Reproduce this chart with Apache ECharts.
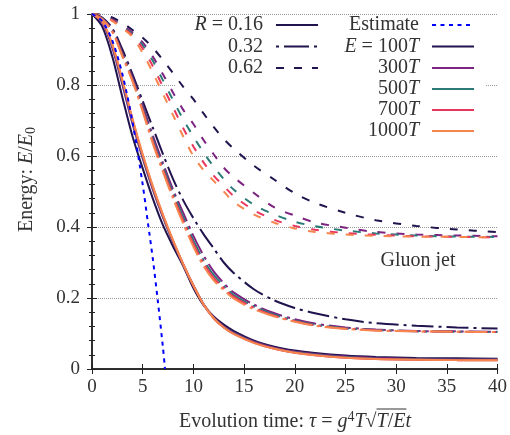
<!DOCTYPE html>
<html>
<head>
<meta charset="utf-8">
<script src="https://cdn.jsdelivr.net/npm/echarts@6/dist/echarts.min.js"></script>
<style>
  html, body { margin: 0; padding: 0; background: #fff; }
  #chart { width: 510px; height: 435px; }
</style>
</head>
<body>
<div id="chart"></div>
<script>
// evolution time grid (shared by all jet curves)
var tau = [0, 1, 2, 3, 4, 5, 6, 7, 8, 9, 10, 11, 12, 13, 14, 16, 18, 20, 22, 25, 28, 32, 36, 40];

// estimate curve
var tauEst = [0, 1, 2, 3, 4, 5, 5.5, 6, 6.5, 7, 7.2];
var estimate = [1, 0.98, 0.925, 0.83, 0.695, 0.52, 0.415, 0.31, 0.19, 0.06, 0];

// R = 0.16 (solid)
var r16_e100  = [1, 0.965, 0.88, 0.765, 0.655, 0.565, 0.48, 0.405, 0.345, 0.29, 0.228, 0.18, 0.148, 0.125, 0.107, 0.08, 0.063, 0.052, 0.045, 0.038, 0.034, 0.031, 0.03, 0.029];
var r16_e300  = [1, 0.976, 0.905, 0.8, 0.69, 0.593, 0.505, 0.427, 0.357, 0.293, 0.235, 0.183, 0.145, 0.12, 0.102, 0.077, 0.06, 0.049, 0.042, 0.035, 0.031, 0.028, 0.027, 0.027];
var r16_e500  = [1, 0.978, 0.91, 0.807, 0.697, 0.598, 0.51, 0.43, 0.359, 0.294, 0.235, 0.182, 0.144, 0.118, 0.1, 0.075, 0.058, 0.047, 0.04, 0.033, 0.029, 0.027, 0.026, 0.026];
var r16_e700  = [1, 0.979, 0.913, 0.811, 0.701, 0.602, 0.513, 0.433, 0.361, 0.295, 0.235, 0.182, 0.143, 0.117, 0.099, 0.074, 0.057, 0.046, 0.039, 0.032, 0.028, 0.026, 0.025, 0.025];
var r16_e1000 = [1, 0.98, 0.915, 0.815, 0.705, 0.605, 0.515, 0.435, 0.362, 0.295, 0.235, 0.182, 0.143, 0.117, 0.098, 0.073, 0.057, 0.046, 0.039, 0.032, 0.028, 0.026, 0.025, 0.025];

// R = 0.32 (dash-dot)
var r32_e100  = [1, 0.99, 0.96, 0.9, 0.83, 0.755, 0.68, 0.605, 0.535, 0.475, 0.425, 0.38, 0.34, 0.3, 0.27, 0.224, 0.193, 0.172, 0.157, 0.14, 0.129, 0.122, 0.117, 0.114];
var r32_e300  = [1, 0.988, 0.955, 0.89, 0.82, 0.742, 0.658, 0.58, 0.505, 0.44, 0.375, 0.32, 0.275, 0.242, 0.215, 0.181, 0.157, 0.14, 0.128, 0.117, 0.111, 0.107, 0.106, 0.105];
var r32_e500  = [1, 0.987, 0.953, 0.886, 0.816, 0.735, 0.648, 0.57, 0.495, 0.428, 0.362, 0.307, 0.265, 0.234, 0.208, 0.176, 0.153, 0.137, 0.125, 0.115, 0.11, 0.106, 0.105, 0.104];
var r32_e700  = [1, 0.986, 0.951, 0.883, 0.813, 0.73, 0.641, 0.562, 0.487, 0.418, 0.353, 0.298, 0.257, 0.228, 0.203, 0.172, 0.15, 0.135, 0.123, 0.114, 0.109, 0.106, 0.105, 0.104];
var r32_e1000 = [1, 0.985, 0.95, 0.88, 0.81, 0.725, 0.635, 0.555, 0.48, 0.41, 0.345, 0.29, 0.25, 0.222, 0.198, 0.168, 0.148, 0.133, 0.122, 0.113, 0.108, 0.106, 0.105, 0.104];

// R = 0.62 (dashed)
var r62_e100  = [1, 0.998, 0.99, 0.975, 0.955, 0.933, 0.905, 0.87, 0.833, 0.795, 0.76, 0.72, 0.682, 0.648, 0.62, 0.572, 0.533, 0.495, 0.468, 0.44, 0.419, 0.403, 0.393, 0.386];
var r62_e300  = [1, 0.996, 0.985, 0.968, 0.948, 0.92, 0.88, 0.83, 0.778, 0.73, 0.69, 0.645, 0.605, 0.567, 0.54, 0.495, 0.455, 0.432, 0.413, 0.398, 0.386, 0.379, 0.376, 0.374];
var r62_e500  = [1, 0.995, 0.983, 0.965, 0.944, 0.912, 0.868, 0.813, 0.757, 0.703, 0.655, 0.61, 0.57, 0.535, 0.505, 0.462, 0.435, 0.415, 0.402, 0.39, 0.382, 0.376, 0.373, 0.372];
var r62_e700  = [1, 0.995, 0.982, 0.962, 0.94, 0.903, 0.853, 0.795, 0.737, 0.678, 0.627, 0.582, 0.545, 0.515, 0.487, 0.447, 0.42, 0.403, 0.392, 0.383, 0.378, 0.374, 0.372, 0.371];
var r62_e1000 = [1, 0.995, 0.98, 0.96, 0.935, 0.89, 0.835, 0.775, 0.715, 0.655, 0.6, 0.56, 0.53, 0.5, 0.47, 0.435, 0.412, 0.396, 0.386, 0.379, 0.375, 0.373, 0.372, 0.371];

var energyLabels = ['100T', '300T', '500T', '700T', '1000T'];
var xTicks = [0, 5, 10, 15, 20, 25, 30, 35, 40];

var colors = ['#21134d', '#7d2382', '#2b7a78', '#e8375f', '#f7864e'];
var FONT = '"Liberation Serif", "DejaVu Serif", serif';
var TXT = '#333';

var dashDot = [22, 5, 3, 5];
var dashed = [8, 11];
var dotted = [4, 4.5];

function pairs(xs, ys) {
  return xs.map(function (x, i) { return [x, ys[i]]; });
}

function curve(name, ys, color, type) {
  return {
    name: name,
    type: 'line',
    data: pairs(tau, ys),
    symbol: 'none',
    smooth: 0.3,
    lineStyle: { color: color, width: 2, type: type },
    itemStyle: { color: color },
    z: 3
  };
}

var groups = [
  { r: '0.62', type: dashed, sets: [r62_e100, r62_e300, r62_e500, r62_e700, r62_e1000] },
  { r: '0.32', type: dashDot, sets: [r32_e100, r32_e300, r32_e500, r32_e700, r32_e1000] },
  { r: '0.16', type: 'solid', sets: [r16_e100, r16_e300, r16_e500, r16_e700, r16_e1000] }
];

var series = [];
groups.forEach(function (g) {
  g.sets.forEach(function (ys, k) {
    series.push(curve('R=' + g.r + ' ' + energyLabels[k], ys, colors[k], g.type));
  });
});
series.push({
  name: 'Estimate',
  type: 'line',
  data: pairs(tauEst, estimate),
  symbol: 'none',
  smooth: 0.3,
  lineStyle: { color: '#0000ff', width: 2, type: dotted },
  z: 4
});

// measure text for the x axis title (overline of the root)
var ctx = document.createElement('canvas').getContext('2d');
function tw(font, s) { ctx.font = font; return ctx.measureText(s).width; }

var fN = '20px ' + FONT, fI = 'italic 20px ' + FONT, fS = '14px ' + FONT;
var xSeg = [
  ['n', 'Evolution time: '], ['i', 'τ'], ['n', ' = '], ['i', 'g'], ['s', '4'],
  ['i', 'T'], ['n', '√'], ['i', 'T'], ['n', '/'], ['i', 'E'], ['i', 't']
];
var segFont = { n: fN, i: fI, s: fS };
var xw = 0, ovStart = 0, ovEnd = 0;
xSeg.forEach(function (s, k) {
  if (k === 7) ovStart = xw;
  xw += tw(segFont[s[0]], s[1]);
  if (k === 9) ovEnd = xw;
});
var xNameCx = 295, xNameCy = 422;
var xNameLeft = xNameCx - xw / 2;
var xNameRich = xSeg.map(function (s) { return '{' + s[0] + '|' + s[1] + '}'; }).join('');

var rich = {
  n: { fontFamily: FONT, fontSize: 20, color: TXT, fill: TXT },
  i: { fontFamily: FONT, fontSize: 20, fontStyle: 'italic', color: TXT, fill: TXT },
  s: { fontFamily: FONT, fontSize: 14, color: TXT, fill: TXT, padding: [0, 0, 9, 0] },
  b: { fontFamily: FONT, fontSize: 14, color: TXT, fill: TXT, padding: [9, 0, 0, 0] }
};

function legendText(x, y, str) {
  return {
    type: 'text', z: 10,
    style: { x: x, y: y, text: str, rich: rich, align: 'right', verticalAlign: 'middle', fontFamily: FONT, fontSize: 20, fill: TXT }
  };
}
function legendLine(x1, x2, y, color, dash) {
  return {
    type: 'line', z: 10,
    shape: { x1: x1, y1: y, x2: x2, y2: y },
    style: { stroke: color, lineWidth: 2, lineDash: dash }
  };
}

var rowY = [25, 46.5, 68, 89, 110, 131];
var graphics = [
  { type: 'rect', z: 1, shape: { x: 176, y: 17, width: 310, height: 122 }, style: { fill: '#fff' } },
  legendText(263, rowY[0], '{i|R}{n| = 0.16}'),
  legendLine(276, 318, rowY[0], colors[0], null),
  legendText(263, rowY[1], '{n|0.32}'),
  legendLine(276, 318, rowY[1], colors[0], [3, 5, 25, 5]),
  legendText(263, rowY[2], '{n|0.62}'),
  legendLine(276, 318, rowY[2], colors[0], [8, 10]),
  legendText(419, rowY[0], '{n|Estimate}'),
  legendLine(432, 474, rowY[0], '#0000ff', [4, 4.5])
];
energyLabels.forEach(function (lab, k) {
  var num = lab.slice(0, -1);
  var str = (k === 0 ? '{i|E}{n| = ' + num + '}' : '{n|' + num + '}') + '{i|T}';
  graphics.push(legendText(419, rowY[k + 1], str));
  graphics.push(legendLine(432, 474, rowY[k + 1], colors[k], null));
});
graphics.push({
  type: 'text', z: 10,
  style: { x: 418, y: 261, text: 'Gluon jet', align: 'center', verticalAlign: 'middle', fontFamily: FONT, fontSize: 20, fill: TXT }
});
graphics.push({
  type: 'text', z: 10,
  style: { x: xNameLeft, y: xNameCy, text: xNameRich, rich: rich, align: 'left', verticalAlign: 'middle', fontFamily: FONT, fontSize: 20, fill: TXT }
});
graphics.push({
  type: 'line', z: 10,
  shape: { x1: xNameLeft + ovStart, y1: xNameCy - 13, x2: xNameLeft + ovEnd + 1, y2: xNameCy - 13 },
  style: { stroke: TXT, lineWidth: 1 }
});

var axisLine = { show: true, lineStyle: { color: '#222', width: 1.5 } };

var chart = echarts.init(document.getElementById('chart'), null, { renderer: 'canvas' });
chart.setOption({
  animation: false,
  backgroundColor: '#fff',
  grid: { left: 92, right: 11, top: 14, bottom: 66 },
  xAxis: [{
    type: 'value', min: xTicks[0], max: xTicks[xTicks.length - 1], interval: 5,
    position: 'bottom',
    axisLine: axisLine,
    axisTick: { inside: true, length: 5, lineStyle: { color: '#222' } },
    axisLabel: { fontFamily: FONT, fontSize: 19, color: TXT, margin: 9 },
    splitLine: { show: false }
  }, {
    type: 'value', min: 0, max: 40, interval: 5,
    position: 'top',
    axisLine: axisLine,
    axisTick: { inside: true, length: 5, lineStyle: { color: '#222' } },
    axisLabel: { show: false },
    splitLine: { show: false }
  }],
  yAxis: [{
    type: 'value', min: 0, max: 1, interval: 0.2,
    position: 'left',
    axisLine: axisLine,
    axisTick: { inside: true, length: 5, lineStyle: { color: '#222' } },
    minorTick: { show: true, splitNumber: 5, length: 3, lineStyle: { color: '#222' } },
    axisLabel: { fontFamily: FONT, fontSize: 19, color: TXT, margin: 12 },
    splitLine: { show: true, lineStyle: { color: '#9a9a9a', width: 1, type: [1, 1] } },
    name: '{n|Energy: }{i|E}{n|/}{i|E}{b|0}',
    nameLocation: 'middle',
    nameGap: 54,
    nameTextStyle: { rich: rich, padding: [0, 0, 0, 24] }
  }, {
    type: 'value', min: 0, max: 1, interval: 0.2,
    position: 'right',
    axisLine: axisLine,
    axisTick: { inside: true, length: 5, lineStyle: { color: '#222' } },
    minorTick: { show: true, splitNumber: 5, length: 3, lineStyle: { color: '#222' } },
    axisLabel: { show: false },
    splitLine: { show: false }
  }],
  graphic: graphics,
  series: series
});
</script>
</body>
</html>
